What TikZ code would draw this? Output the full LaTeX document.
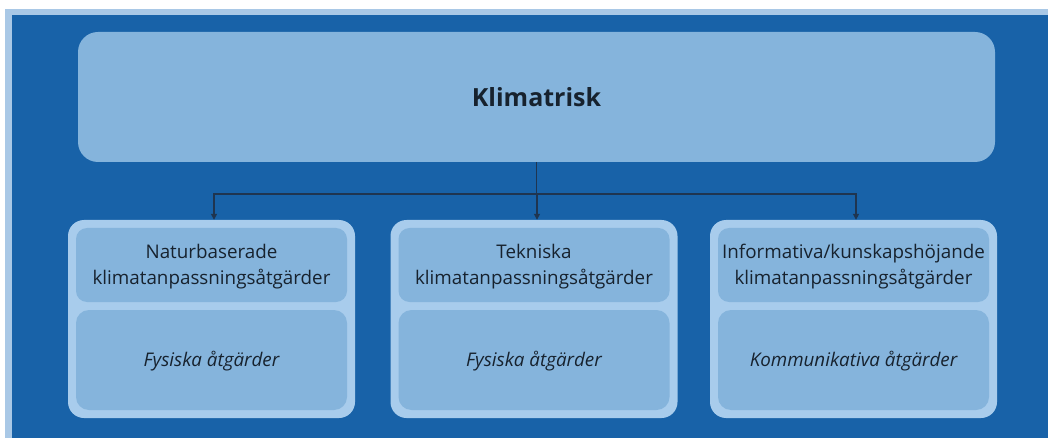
\documentclass[tikz,border=0pt]{standalone}
\usepackage{fontspec}
\setmainfont{Open Sans}
\usetikzlibrary{arrows.meta}
\definecolor{bgdark}{HTML}{1862A8}
\definecolor{bglight}{HTML}{A9C8E6}
\definecolor{boxfill}{HTML}{85B4DC}
\definecolor{boxrim}{HTML}{A8CCEC}
\definecolor{txt}{HTML}{17222E}
\definecolor{linec}{HTML}{1F3550}
\tikzset{
  topbox/.style={fill=boxfill, rounded corners=20pt, minimum width=917pt, minimum height=130pt, inner sep=0pt, text=txt, font=\fontsize{25}{30}\selectfont\bfseries},
  rimbox/.style={fill=boxrim, rounded corners=16pt, minimum width=287pt, minimum height=198pt, inner sep=0pt},
  headbox/.style={fill=boxfill, rounded corners=11pt, minimum width=271pt, minimum height=74pt, inner sep=0pt, text=txt, align=center, font=\fontsize{18.8}{26}\selectfont},
  lowbox/.style={fill=boxfill, rounded corners=13pt, minimum width=271pt, minimum height=100pt, inner sep=0pt, text=txt, align=center, font=\fontsize{18.8}{26}\selectfont\itshape},
  conn/.style={draw=linec, line width=1.3pt},
  arr/.style={conn, -{Triangle[width=6pt,length=6pt]}}
}
\begin{document}
\begin{tikzpicture}[x=1pt,y=-1pt]
\useasboundingbox (0,0) rectangle (1048,438);
\fill[white] (0,0) rectangle (1048,438);
\fill[bglight] (5,9) rectangle (1048,438);
\fill[bgdark] (12,15) rectangle (1048,438);
\node[topbox] (top) at (536.5,97) {Klimatrisk};
\foreach \i/\cx/\ha/\hb/\lo in {1/211.5/Naturbaserade/klimatanpassningsåtgärder/Fysiska åtgärder,
                                2/534/Tekniska/klimatanpassningsåtgärder/Fysiska åtgärder,
                                3/853.5/Informativa\slash kunskapshöjande/klimatanpassningsåtgärder/Kommunikativa åtgärder}{
  \node[rimbox] (b\i) at (\cx,319) {};
  \node[headbox] (h\i) at (\cx,265) {};
  \node[text=txt, align=center, font=\fontsize{18.8}{26}\selectfont, inner sep=0pt] (ht\i) at (\cx,267) {\ha\\\hb};
  \node[lowbox] (l\i) at (\cx,360) {};
  \node[text=txt, font=\fontsize{18.8}{26}\selectfont\itshape, inner sep=0pt] (lt\i) at (\cx,361) {\lo};
}
\coordinate (bus) at (top.south |- 0,194);
\draw[conn] (top.south) -- (bus);
\draw[arr] (bus) -| ([xshift=2.5pt]b1.north);
\draw[arr] (bus) -| ([xshift=3pt]b2.north);
\draw[arr] (bus) -| ([xshift=2.5pt]b3.north);
\end{tikzpicture}
\end{document}
